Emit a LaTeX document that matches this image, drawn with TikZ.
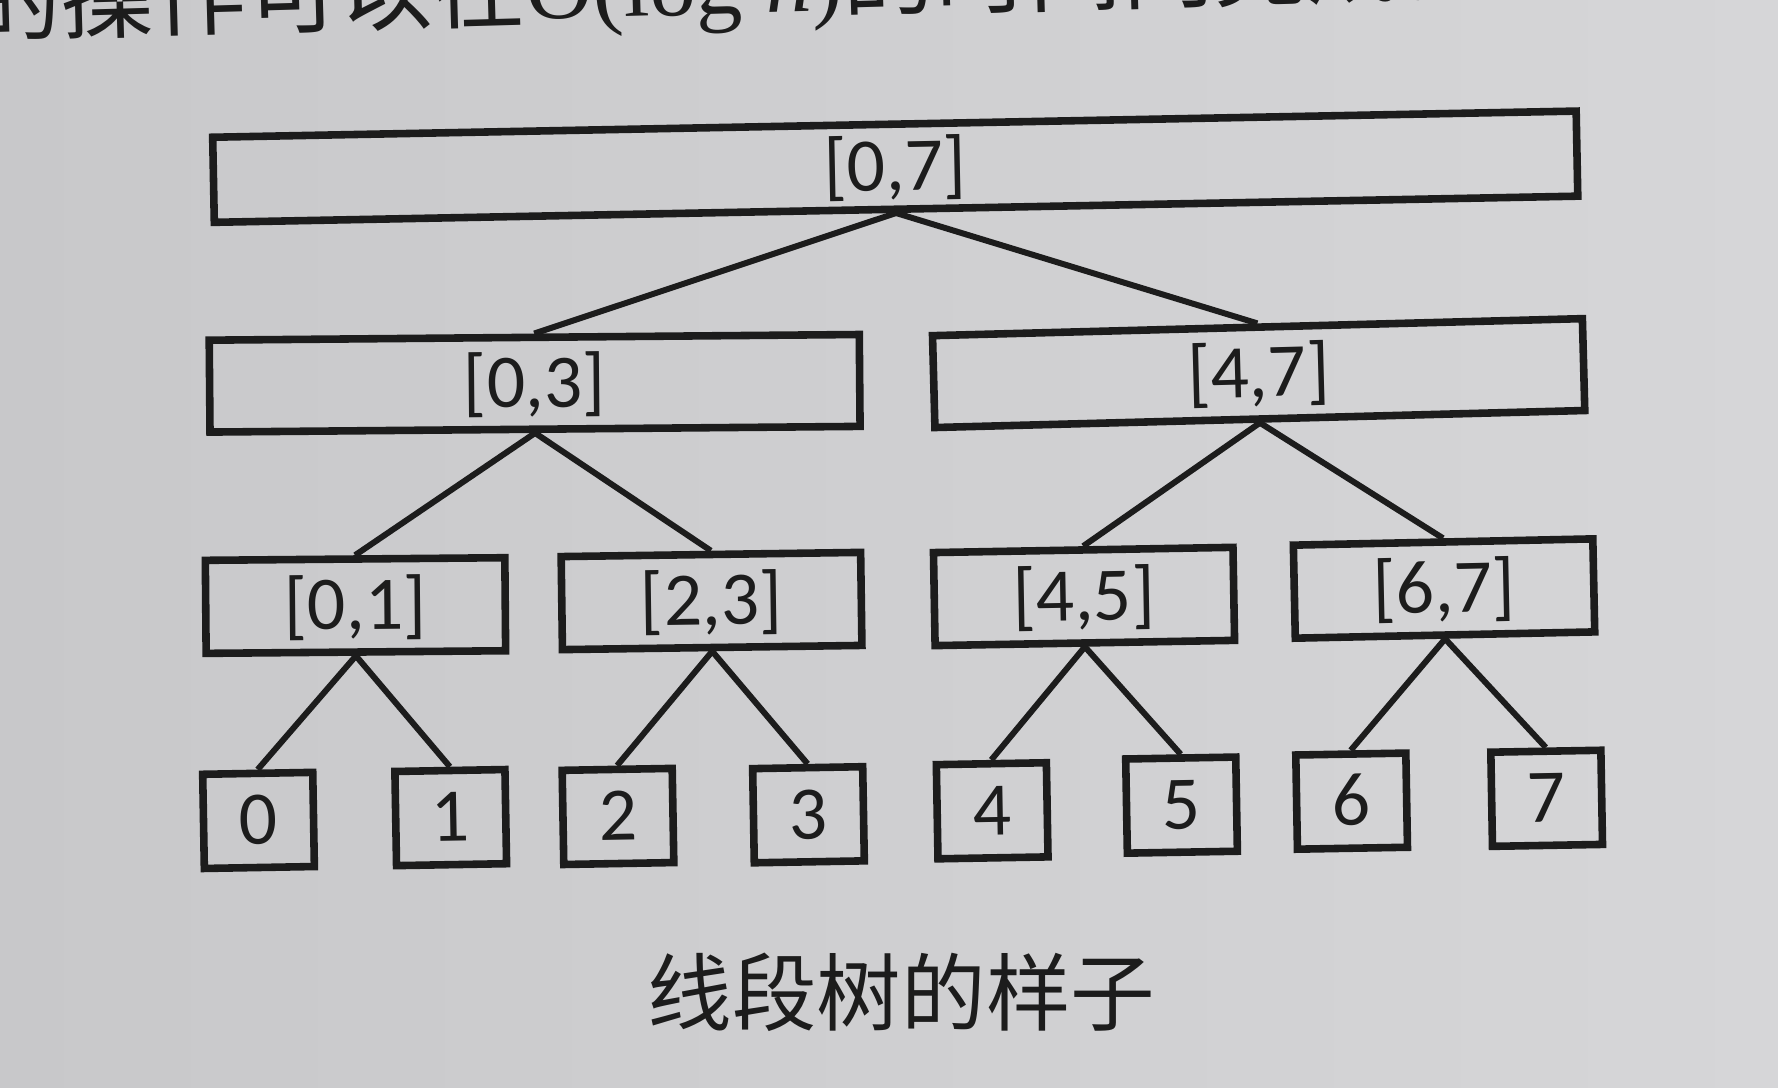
\documentclass[tikz,border=0pt]{standalone}
\usepackage{fontspec}
\setmainfont{Carlito}
\newfontfamily\cjkfont{Noto Sans CJK SC}
\newfontfamily\tmsfont{Liberation Serif}
\definecolor{ink}{HTML}{1C1C1C}
\definecolor{paperA}{HTML}{C8C8CA}
\definecolor{paperB}{HTML}{D6D6D8}
\begin{document}
\begin{tikzpicture}[x=0.01cm,y=-0.01cm,
  box/.style={draw=ink, line width=1.9pt, inner sep=0pt,
    font=\fontsize{19}{19}\selectfont, text=ink, text height=12pt, text depth=0pt},
  rootbox/.style={box, minimum width=12.02cm, minimum height=0.75cm},
  halfbox/.style={box, minimum width=5.73cm, minimum height=0.81cm},
  quartbox/.style={box, minimum width=2.64cm, minimum height=0.82cm},
  leafbox/.style={box, minimum width=0.97cm, minimum height=0.83cm, rotate=1},
  link/.style={draw=ink, line width=1.5pt}]
\useasboundingbox (0,0) rectangle (1568,959);
\clip (0,0) rectangle (1568,959);
\shade[left color=paperA, right color=paperB] (0,0) rectangle (1568,959);

% partially cut text line at the top
\node[anchor=base west, rotate=1.6, inner sep=0pt, text=ink,
  font=\cjkfont\fontsize{23.3}{24}\selectfont] (toptext) at (-28,31)
  {的操作可以在{\tmsfont O(log \textit{n})}的时间内完成。};

% tree nodes
\node[rootbox, rotate=1.1] (r) at (789.5,147) {[0,7]};
\node[halfbox, rotate=0.5] (a) at (471.5,338) {[0,3]};
\node[halfbox, rotate=1.5] (b) at (1110,329) {[4,7]};
\node[quartbox, rotate=0.5] (a1) at (313.5,534) {[0,1]};
\node[quartbox, rotate=0.8] (a2) at (627.5,530) {[2,3]};
\node[quartbox, rotate=1] (b1) at (956,526) {[4,5]};
\node[quartbox, rotate=1.2] (b2) at (1273.5,519) {[6,7]};
\node[leafbox] (l0) at (228,723.5) {0};
\node[leafbox] (l1) at (397.5,721) {1};
\node[leafbox] (l2) at (545,720) {2};
\node[leafbox] (l3) at (713,718.5) {3};
\node[leafbox] (l4) at (875,715) {4};
\node[leafbox] (l5) at (1042,710) {5};
\node[leafbox] (l6) at (1192,706.5) {6};
\node[leafbox] (l7) at (1364,704) {7};

% connectors
\draw[link] (r.south) -- (a.north);
\draw[link] (r.south) -- (b.north);
\draw[link] (a.south) -- (a1.north);
\draw[link] (a.south) -- (a2.north);
\draw[link] (b.south) -- (b1.north);
\draw[link] (b.south) -- (b2.north);
\draw[link] (a1.south) -- (l0.north);
\draw[link] (a1.south) -- (l1.north);
\draw[link] (a2.south) -- (l2.north);
\draw[link] (a2.south) -- (l3.north);
\draw[link] (b1.south) -- (l4.north);
\draw[link] (b1.south) -- (l5.north);
\draw[link] (b2.south) -- (l6.north);
\draw[link] (b2.south) -- (l7.north);

% caption
\node[inner sep=0pt, text=ink, font=\cjkfont\fontsize{21.2}{22}\selectfont] (cap) at (795,875) {线段树的样子};
\end{tikzpicture}
\end{document}
